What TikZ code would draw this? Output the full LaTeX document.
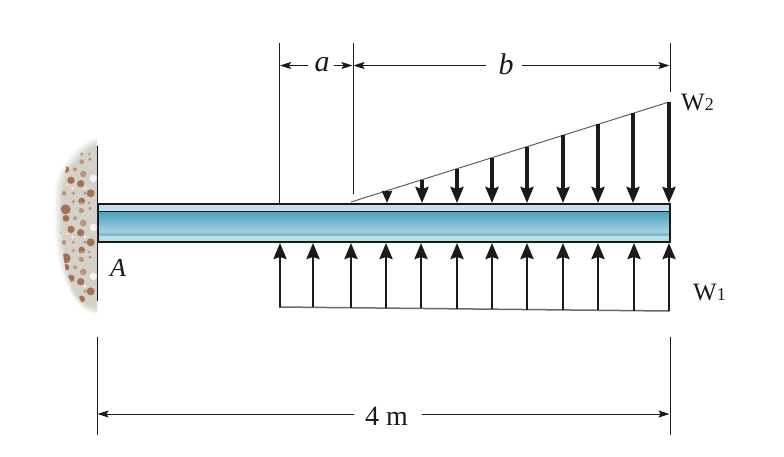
\documentclass[tikz,border=0pt]{standalone}
\usepackage{fontspec}
\setmainfont{Liberation Serif}
\usetikzlibrary{arrows.meta}
\definecolor{blueTop}{HTML}{C6DFEC}
\definecolor{blueDark}{HTML}{4A9DBB}
\definecolor{blueLight}{HTML}{A9D5E3}
\definecolor{blueBand}{HTML}{7DBCD0}
\definecolor{blueLow}{HTML}{B9DDEA}
\definecolor{ink}{HTML}{1A1A1A}
\definecolor{concrete}{HTML}{D2CEC2}
\definecolor{pebble}{HTML}{A0664A}
\tikzset{
  thin line/.style={draw=ink,line width=1pt},
  dim line/.style={draw=ink,line width=1pt,-{Stealth[length=11pt,width=7pt,inset=2pt]}},
  load/.style={draw=ink,line width=3.2pt,-{Stealth[length=16pt,width=13pt,inset=2pt]}},
  up load/.style={draw=ink,line width=2.7pt,-{Stealth[length=16pt,width=13pt,inset=2pt]}},
  small load/.style={draw=ink,line width=3.2pt,-{Stealth[length=12pt,width=10pt,inset=1pt]}},
  lab/.style={inner sep=0pt,text=ink,font=\fontsize{30}{30}\selectfont\itshape},
  weight/.style={inner sep=0pt,text=ink,anchor=west},
}
\newcommand{\wlabel}[1]{{\fontsize{25}{25}\selectfont W}{\fontsize{18}{18}\selectfont #1}}
\begin{document}
\begin{tikzpicture}[x=1pt,y=-1pt]
\useasboundingbox (0,0) rectangle (784,456);
% concrete wall
\foreach \g/\o in {0/0.12,1.5/0.16,3/0.22,4.5/0.3,6/0.4,8/0.7}{
  \fill[concrete,opacity=\o] (97,{137+\g}) .. controls ({84+\g*0.3},{140+\g}) and ({60+\g},{160+\g}) .. ({55+\g},185)
    .. controls ({53+\g},225) and ({54+\g},262) .. ({68+\g*0.6},288)
    .. controls ({75+\g*0.5},303) and ({85+\g*0.3},{314-\g}) .. (97,{315-\g}) -- cycle;
}
\begin{scope}
\clip (80,146) -- (97,146) -- (97,303) -- (82,303) -- (66,272) -- (60,235) -- (60,190) -- (67,165) -- cycle;
\begin{scope}[shift={(40,130)},x=0.3333pt,y=-0.3333pt]
\foreach \k in {0,147,294}{
  \begin{scope}[yshift={-\k*0.3333pt}]
  \foreach \a/\b/\r in {78/118/10,93/151/11,122/161/11,152/190/12,125/213/10,77/238/15}{
    \fill[pebble!90!concrete] (\a,\b) circle[radius=\r*0.3333pt];}
  \foreach \a/\b/\r in {105/118/6,130/132/10,72/190/7,100/190/5,135/190/5,123/241/7,100/215/5,55/215/3,60/160/3,150/88/5,125/95/7,125/72/5,148/72/4}{
    \fill[pebble!55!concrete] (\a,\b) circle[radius=\r*0.3333pt];}
  \foreach \a/\b/\r in {160/145/11,98/175/4,135/175/4,80/165/3}{
    \fill[white!80!concrete] (\a,\b) circle[radius=\r*0.3333pt];}
  \end{scope}
}
\end{scope}
\end{scope}
% beam body
\fill[blueTop] (97,204) rectangle (670,211);
\shade[top color=blueDark,bottom color=blueLight] (97,211) rectangle (670,233);
\fill[blueBand] (97,233) rectangle (670,236);
\fill[blueLow] (97,236) rectangle (670,242);
\draw[ink,line width=0.8pt] (97,211.5) -- (670,211.5);
\draw[ink,line width=2pt] (97.5,204) rectangle (670,242);
% named points
\coordinate (wallT) at (97,146);
\coordinate (wallB) at (97,301);
\draw[thin line] (wallT) -- (wallB);
\coordinate (extA) at (279.5,43);
\coordinate (extAb) at (279.5,203);
\coordinate (extB) at (353,43);
\coordinate (extBb) at (353,194);
\coordinate (extC) at (670,43);
\coordinate (extCb) at (670,92);
\draw[thin line] (extA) -- (extAb);
\draw[thin line] (extB) -- (extBb);
\draw[thin line] (extC) -- (extCb);
\coordinate (ext4a) at (97,337);
\coordinate (ext4ab) at (97,435);
\coordinate (ext4c) at (670,337);
\coordinate (ext4cb) at (670,435);
\draw[thin line] (ext4a) -- (ext4ab);
\draw[thin line] (ext4c) -- (ext4cb);
% labels
\node[lab] (a) at (322,65) {a};
\node[lab] (b) at (506,64) {b};
\node[lab,font=\fontsize{26}{26}\selectfont\itshape] (A) at (118,268) {A};
\node[inner sep=0pt,text=ink,font=\fontsize{28}{28}\selectfont] (four) at (386.5,416) {4 m};
\node[weight] (w2) at (681,102) {\wlabel{2}};
\node[weight] (w1) at (693,292) {\wlabel{1}};
% dimension lines
\coordinate (a1) at (280,65.5);
\coordinate (a2) at (352.5,65.5);
\coordinate (b1) at (353.5,65.5);
\coordinate (b2) at (669.5,65.5);
\coordinate (f1) at (97.5,414);
\coordinate (f2) at (669.5,414);
\draw[dim line] (a.west) ++(-6,0.5) -- (a1);
\draw[dim line] (a.east) ++(4,0.5) -- (a2);
\draw[dim line] (b.west) ++(-12,1.5) -- (b1);
\draw[dim line] (b.east) ++(8,1.5) -- (b2);
\draw[dim line] (four.west) ++(-11,-2) -- (f1);
\draw[dim line] (four.east) ++(14,-2) -- (f2);
% distributed load top
\coordinate (t0) at (351,202);
\coordinate (t1) at (669,102);
\draw[draw=ink!70,line width=1pt] (t0) -- (t1);
\coordinate (dT387) at (387,{202-36*0.31447});
\coordinate (dB387) at (387,203);
\draw[small load] (dT387) -- (dB387);
\foreach \x in {422,457,492,527,563,598,633,669}{
  \coordinate (dT\x) at (\x,{202-(\x-351)*0.31447});
  \coordinate (dB\x) at (\x,203);
  \draw[load] (dT\x) -- (dB\x);
}
% distributed load bottom
\coordinate (s0) at (279,307);
\coordinate (s1) at (669,311);
\draw[draw=ink!65,line width=1.5pt] (s0) -- (s1);
\foreach \x in {280,313,351,386,421,457,492,527,563,598,634,669}{
  \coordinate (uB\x) at (\x,{307+(\x-279)*0.010256});
  \coordinate (uT\x) at (\x,243);
  \draw[up load] (uB\x) -- (uT\x);
}
\end{tikzpicture}
\end{document}
